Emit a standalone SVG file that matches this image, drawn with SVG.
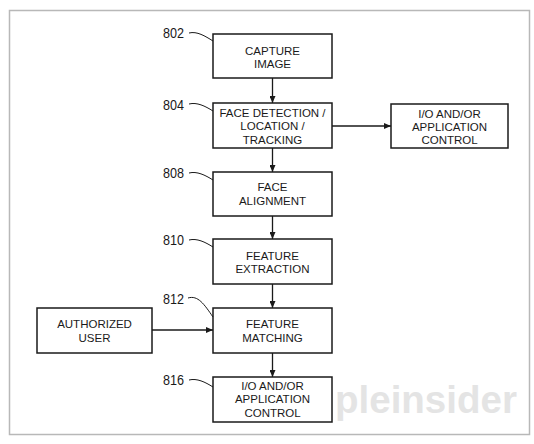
<svg xmlns="http://www.w3.org/2000/svg" width="534" height="444" viewBox="0 0 534 444">
<defs>
<style>
.box{fill:#fff;stroke:#1a1a1a;stroke-width:1.5}
.t{font-family:"Liberation Sans",Arial,sans-serif;font-size:11.5px;fill:#1a1a1a;text-anchor:middle}
.ref{font-family:"Liberation Sans",Arial,sans-serif;font-size:14px;fill:#1a1a1a}
.lead{fill:none;stroke:#1a1a1a;stroke-width:1}
.edge{fill:none;stroke:#1a1a1a;stroke-width:1.3;marker-end:url(#ah)}
</style>
<marker id="ah" markerWidth="7" markerHeight="6" refX="7" refY="3" orient="auto" markerUnits="userSpaceOnUse">
<path d="M0,0 L7,3 L0,6 Z" fill="#1a1a1a"/>
</marker>
</defs>
<rect width="534" height="444" fill="#fff"/>
<rect x="9.5" y="10.5" width="520" height="424" fill="none" stroke="#b8b8b8" stroke-width="1.5"/>
<text x="335" y="413" font-family="Liberation Sans,Arial,sans-serif" font-weight="bold" font-size="38.5" fill="#e4e4e4">pleinsider</text>
<g id="connectors">
<line class="edge" x1="272.5" y1="78" x2="272.5" y2="103"/>
<line class="edge" x1="272.5" y1="148" x2="272.5" y2="172"/>
<line class="edge" x1="272.5" y1="216" x2="272.5" y2="239"/>
<line class="edge" x1="272.5" y1="284" x2="272.5" y2="308"/>
<line class="edge" x1="272.5" y1="353" x2="272.5" y2="377"/>
<line class="edge" x1="332" y1="126" x2="391" y2="126"/>
<line class="edge" x1="152" y1="330" x2="213" y2="330"/>
</g>
<g id="n802">
<rect class="box" x="213" y="34" width="119" height="44"/>
<text class="t" x="272.5" y="55">CAPTURE</text>
<text class="t" x="272.5" y="68">IMAGE</text>
<text class="ref" x="163" y="38" textLength="21" lengthAdjust="spacingAndGlyphs">802</text>
<path class="lead" d="M189,33 C197,31 205,36 213,41"/>
</g>
<g id="n804">
<rect class="box" x="213" y="103" width="119" height="45"/>
<text class="t" x="272.5" y="117">FACE DETECTION /</text>
<text class="t" x="272.5" y="130">LOCATION /</text>
<text class="t" x="272.5" y="144">TRACKING</text>
<text class="ref" x="163" y="110" textLength="21" lengthAdjust="spacingAndGlyphs">804</text>
<path class="lead" d="M189,104 C197,102 205,106 213,111"/>
</g>
<g id="n806">
<rect class="box" x="391" y="104" width="117" height="44"/>
<text class="t" x="449.5" y="118">I/O AND/OR</text>
<text class="t" x="449.5" y="131">APPLICATION</text>
<text class="t" x="449.5" y="144">CONTROL</text>
</g>
<g id="n808">
<rect class="box" x="213" y="172" width="119" height="44"/>
<text class="t" x="272.5" y="191">FACE</text>
<text class="t" x="272.5" y="205">ALIGNMENT</text>
<text class="ref" x="163" y="178" textLength="21" lengthAdjust="spacingAndGlyphs">808</text>
<path class="lead" d="M189,173 C197,171 205,175 213,180"/>
</g>
<g id="n810">
<rect class="box" x="213" y="239" width="119" height="45"/>
<text class="t" x="272.5" y="260">FEATURE</text>
<text class="t" x="272.5" y="273">EXTRACTION</text>
<text class="ref" x="163" y="245" textLength="21" lengthAdjust="spacingAndGlyphs">810</text>
<path class="lead" d="M189,240 C197,238 205,242 213,247"/>
</g>
<g id="n812">
<rect class="box" x="213" y="308" width="119" height="45"/>
<text class="t" x="272.5" y="328">FEATURE</text>
<text class="t" x="272.5" y="342">MATCHING</text>
<text class="ref" x="163" y="304" textLength="21" lengthAdjust="spacingAndGlyphs">812</text>
<path class="lead" d="M188,298 C198,295 204,304 213,317"/>
</g>
<g id="n814">
<rect class="box" x="37" y="308" width="115" height="45"/>
<text class="t" x="94.5" y="328">AUTHORIZED</text>
<text class="t" x="94.5" y="342">USER</text>
</g>
<g id="n816">
<rect class="box" x="213" y="377" width="119" height="45"/>
<text class="t" x="272.5" y="390">I/O AND/OR</text>
<text class="t" x="272.5" y="403">APPLICATION</text>
<text class="t" x="272.5" y="417">CONTROL</text>
<text class="ref" x="163" y="385" textLength="21" lengthAdjust="spacingAndGlyphs">816</text>
<path class="lead" d="M189,380 C197,378 205,382 213,387"/>
</g>
</svg>
